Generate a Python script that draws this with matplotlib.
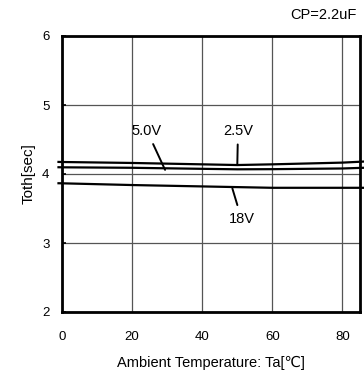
import numpy as np
import matplotlib.pyplot as plt

plt.rcParams['font.family'] = ['Liberation Sans', 'DejaVu Sans']

temp = [-1, 0, 20, 40, 50, 60, 80, 86]
toth_25v = [4.175, 4.174, 4.16, 4.14, 4.13, 4.14, 4.165, 4.18]
toth_50v = [4.098, 4.097, 4.09, 4.075, 4.068, 4.07, 4.08, 4.09]
toth_18v = [3.866, 3.865, 3.84, 3.82, 3.81, 3.80, 3.80, 3.80]

x_ticks = [0, 20, 40, 60, 80]
y_ticks = [2, 3, 4, 5, 6]

fig = plt.figure(figsize=(3.64, 3.76), dpi=100)
ax = fig.add_axes([62 / 364, 1 - 312 / 376, 298 / 364, 276 / 376])

ax.set_xlim(0, 85)
ax.set_ylim(2, 6)
ax.set_xticks(x_ticks)
ax.set_yticks(y_ticks)
ax.grid(True, color='#555555', linewidth=0.9)
ax.tick_params(axis='y', direction='in', length=3, width=1.2, pad=9,
               labelsize=9.5)
ax.tick_params(axis='x', length=0, pad=14, labelsize=9.5)
for s in ax.spines.values():
    s.set_linewidth(2)

for vals in (toth_25v, toth_50v, toth_18v):
    ax.plot(temp, vals, color='black', linewidth=1.6, clip_on=False)

# labels with leader lines
leader = dict(arrowstyle='-', color='black', lw=1.4, shrinkA=3, shrinkB=0)
ax.annotate('5.0V', xy=(29.4, 4.06), xytext=(24.2, 4.63), ha='center',
            va='center', fontsize=10.5, arrowprops=leader)
ax.annotate('2.5V', xy=(50, 4.13), xytext=(50.2, 4.63), ha='center',
            va='center', fontsize=10.5, arrowprops=leader)
ax.annotate('18V', xy=(48.6, 3.79), xytext=(51.2, 3.35), ha='center',
            va='center', fontsize=10.5, arrowprops=leader)

ax.set_xlabel('Ambient Temperature: Ta[\u2103]', fontsize=10.5, labelpad=9)
ax.set_ylabel('Toth[sec]', fontsize=11, labelpad=5)
fig.text(357 / 364, 1 - 15 / 376, 'CP=2.2uF', ha='right', va='center',
         fontsize=10.5)

fig.savefig('out.png', dpi=100)
